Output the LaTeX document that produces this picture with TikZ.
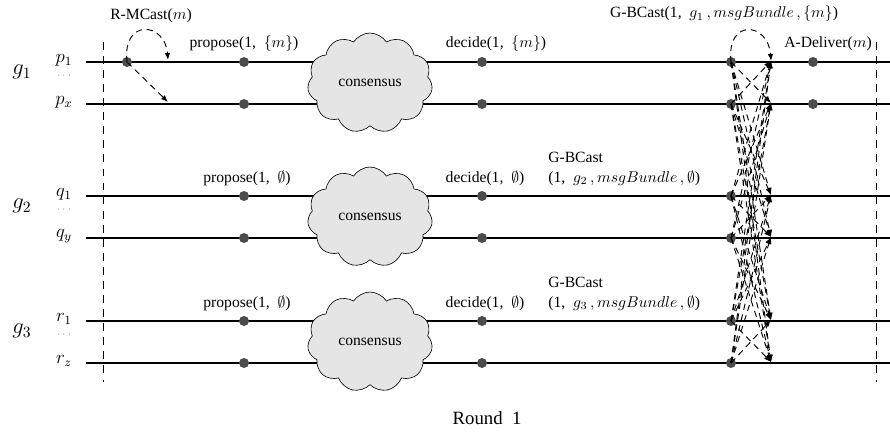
\documentclass[tikz,border=0pt]{standalone}
\usepackage{fontspec}
\setmainfont{Liberation Serif}
\usetikzlibrary{shapes.symbols,arrows.meta}
\begin{document}
\begin{tikzpicture}[x=0.64pt,y=-0.64pt,
  procline/.style={line width=1.2pt},
  bound/.style={line width=0.6pt,dash pattern=on 5pt off 4pt},
  evdot/.style={circle,fill=black!70,inner sep=0pt,minimum size=6.4pt},
  msg/.style={line width=0.6pt,dash pattern=on 4pt off 3pt,-{Latex[length=4.5pt,width=3.5pt]}},
  cons/.style={cloud,cloud puffs=11,cloud puff arc=115,aspect=1.3,draw,fill=black!10,
    minimum width=80pt,minimum height=64pt,inner sep=0pt,font=\normalsize},
  lbl/.style={inner sep=0pt,font=\normalsize},
  grp/.style={inner sep=0pt,font=\Large},
  proc/.style={inner sep=0pt,font=\large},
  dots/.style={inner sep=0pt,font=\tiny}]
\useasboundingbox (0,0) rectangle (890,434);

% process lines
\foreach \n/\y in {1/62,2/104,3/196,4/238,5/321,6/363}{
  \coordinate (ls\n) at (86,\y);
  \coordinate (le\n) at (890,\y);
  \draw[procline] (ls\n) -- (le\n);
}

% round boundaries
\coordinate (bl1) at (103,42); \coordinate (bl2) at (103,382);
\coordinate (br1) at (876,42); \coordinate (br2) at (876,382);
\draw[bound] (bl1) -- (bl2);
\draw[bound] (br1) -- (br2);

% group / process labels
\node[grp] (g1) at (22,72) {$g_1$};
\node[grp] (g2) at (22,206) {$g_2$};
\node[grp] (g3) at (22,331) {$g_3$};
\node[proc] (np1) at (64,60) {$p_1$};
\node[dots] (d1) at (64,76) {$\cdots$};
\node[proc] (npx) at (64,102) {$p_x$};
\node[proc] (nq1) at (64,194) {$q_1$};
\node[dots] (d2) at (64,210) {$\cdots$};
\node[proc] (nqy) at (64,236) {$q_y$};
\node[proc] (nr1) at (64,319) {$r_1$};
\node[dots] (d3) at (64,335) {$\cdots$};
\node[proc] (nrz) at (64,361) {$r_z$};

% clouds
\node[cons] (c1) at (370,83) {consensus};
\node[cons] (c2) at (370,217) {consensus};
\node[cons] (c3) at (370,342) {consensus};

% event dots
\node[evdot] (rm) at (127,62) {};
\foreach \n/\y in {1/62,2/104,3/196,4/238,5/321,6/363}{
  \node[evdot] (pr\n) at (244,\y) {};
  \node[evdot] (de\n) at (482,\y) {};
  \node[evdot] (s\n) at (731,\y) {};
  \coordinate (t\n) at (771,\y-1);
}
\node[evdot] (ad1) at (813,62) {};
\node[evdot] (ad2) at (813,104) {};

% R-MCast
\coordinate (rt1) at (168,60);
\coordinate (rt2) at (168,102);
\draw[msg] (rm.center) .. controls (122,18) and (165,22) .. (rt1);
\draw[msg] (rm.center) -- (rt2);

% G-BCast all-to-all
\draw[msg] (s1.center) .. controls (726,18) and (768,22) .. (t1);
\foreach \i in {1,...,6}{
  \foreach \j in {1,...,6}{
    \ifnum\i=\j\relax\else
      \draw[msg] (s\i.center) -- (t\j);
    \fi
  }
}

% labels
\node[lbl] (lrm) at (151,16) {R-MCast($m$)};
\node[lbl] (lp1) at (244,44) {propose(1,~ $\{m\}$)};
\node[lbl] (ld1) at (496,44) {decide(1,~ $\{m\}$)};
\node[lbl] (lg1) at (724,14) {G-BCast(1,~ $g_1\,, msgBundle\,, \{m\}$)};
\node[lbl] (lad) at (828,44) {A-Deliver($m$)};

\node[lbl] (lp2) at (247,178) {propose(1,~ $\emptyset$)};
\node[lbl] (ld2) at (485,178) {decide(1,~ $\emptyset$)};
\node[lbl,anchor=west] (lgb2) at (548,157) {G-BCast};
\node[lbl,anchor=west] (lga2) at (548,178) {(1,~ $g_2\,, msgBundle\,, \emptyset$)};

\node[lbl] (lp3) at (247,303) {propose(1,~ $\emptyset$)};
\node[lbl] (ld3) at (485,303) {decide(1,~ $\emptyset$)};
\node[lbl,anchor=west] (lgb3) at (548,282) {G-BCast};
\node[lbl,anchor=west] (lga3) at (548,303) {(1,~ $g_3\,, msgBundle\,, \emptyset$)};

\node[lbl,font=\large] (round) at (487,418) {Round~ 1};
\end{tikzpicture}
\end{document}
